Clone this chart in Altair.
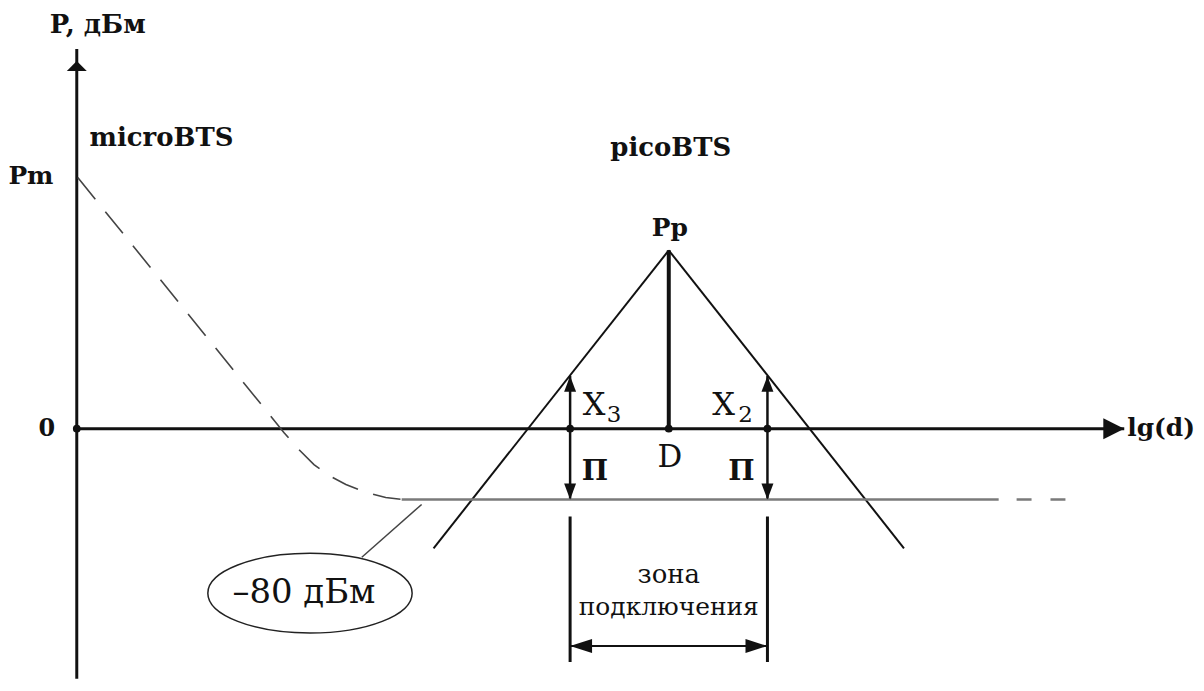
import altair as alt
import pandas as pd

# ---- schematic coordinates: x = lg(d) units, y = P units (0 = x axis) ----
X_DOMAIN = [-69, 1119]
Y_DOMAIN = [-251, 421]

SERIF = "DejaVu Serif"

# straight segments
seg_name = ["yaxis", "xaxis", "tri_left", "tri_right", "peak", "x3_arrow", "x2_arrow",
            "zone_left", "zone_right", "zone_span", "threshold", "leader"]
seg_x1 = [0, 0, 594, 594, 594, 495, 693, 495, 693, 495, 326, 286]
seg_y1 = [-262, 0, 179, 179, 179, 53, 53, -88, -88, -218, -71, -129]
seg_x2 = [0, 1051, 358, 830, 594, 495, 693, 495, 693, 693, 925, 346]
seg_y2 = [381, 0, -120, -120, 0, -71, -71, -234, -234, -218, -71, -76]
seg_w = [3, 3, 2, 2, 4, 2.5, 2.5, 3, 3, 2, 2.5, 1.5]
seg_c = ["#111", "#111", "#111", "#111", "#111", "#111", "#111", "#111", "#111", "#111", "#7a7a7a", "#444"]

# dashed continuation of the threshold line
dash_x1 = [943]
dash_x2 = [994]
dash_y = [-71]

# microBTS signal curve (dashed)
curve_x = [1, 208, 223, 238, 253, 270, 290, 310, 326]
curve_y = [252, -4, -21, -36, -47, -56, -64, -69, -71]

# junction dots
dot_x = [0, 495, 594, 693]
dot_y = [0, 0, 0, 0]

# labels
bold_text = ["P, дБм", "microBTS", "Pm", "picoBTS", "Pp", "0", "lg(d)", "П", "П"]
bold_x = [21, 85, -46, 596, 595, -30, 1088, 520, 667]
bold_y = [405, 292, 254, 282, 201, 0, 1, -43, -43]
bold_fs = [26, 26, 25, 26, 25, 24, 25, 28, 28]

reg_text = ["X", "3", "X", "2", "D", "зона", "подключения", "–80 дБм"]
reg_x = [519, 539, 649, 671, 595, 594, 594, 228]
reg_y = [24, 14, 24, 14, -29, -147, -179, -165]
reg_fs = [32, 23, 32, 23, 31, 26, 25, 34]

# ellipse around the -80 dBm note
ell_x = [234]
ell_y = [-165]

xs = alt.Scale(domain=X_DOMAIN, nice=False, zero=False)
ys = alt.Scale(domain=Y_DOMAIN, nice=False, zero=False)


def X(f="x"):
    return alt.X(f"{f}:Q", scale=xs, axis=None)


def Y(f="y"):
    return alt.Y(f"{f}:Q", scale=ys, axis=None)


segs = pd.DataFrame(dict(name=seg_name, x=seg_x1, y=seg_y1, x2=seg_x2, y2=seg_y2, w=seg_w, c=seg_c))
rules = alt.Chart(segs).mark_rule(clip=True, strokeCap="butt").encode(
    x=X(), y=Y(), x2="x2:Q", y2="y2:Q",
    strokeWidth=alt.StrokeWidth("w:Q", scale=None),
    color=alt.Color("c:N", scale=None),
)

dash_df = pd.DataFrame(dict(x=dash_x1, x2=dash_x2, y=dash_y))
dashes = alt.Chart(dash_df).mark_rule(color="#7a7a7a", strokeWidth=2.5, strokeDash=[15, 19]).encode(
    x=X(), x2="x2:Q", y=Y()
)

curve_df = pd.DataFrame(dict(x=curve_x, y=curve_y, o=list(range(len(curve_x)))))
curve = alt.Chart(curve_df).mark_line(color="#444", strokeWidth=1.6, strokeDash=[28, 16]).encode(
    x=X(), y=Y(), order="o:Q"
)

dots = alt.Chart(pd.DataFrame(dict(x=dot_x, y=dot_y))).mark_circle(color="#111", size=60, opacity=1).encode(
    x=X(), y=Y()
)

# arrowheads, positioned from the segment data
up_big = pd.DataFrame(dict(x=[seg_x2[0]], y=[seg_y2[0] - 17]))
right_big = pd.DataFrame(dict(x=[seg_x2[1] - 10.5], y=[0]))
up_small = pd.DataFrame(dict(x=[seg_x1[5], seg_x1[6]], y=[seg_y1[5] - 8, seg_y1[6] - 8]))
down_small = pd.DataFrame(dict(x=[seg_x2[5], seg_x2[6]], y=[seg_y2[5] + 8, seg_y2[6] + 8]))
left_zone = pd.DataFrame(dict(x=[seg_x1[9] + 11], y=[seg_y1[9]]))
right_zone = pd.DataFrame(dict(x=[seg_x2[9] - 11], y=[seg_y2[9]]))


def head(df, path, size):
    return alt.Chart(df).mark_point(shape=path, size=size, filled=True, color="#111", opacity=1,
                                    strokeWidth=0).encode(x=X(), y=Y())


heads = [
    head(up_big, "M 0 -0.5 L 1 0.5 L -1 0.5 Z", 400),
    head(right_big, "M 1 0 L -1 -1 L -1 1 Z", 441),
    head(up_small, "M 0 -1 L 0.75 1 L -0.75 1 Z", 256),
    head(down_small, "M 0 1 L 0.75 -1 L -0.75 -1 Z", 256),
    head(left_zone, "M -1 0 L 1 -0.64 L 1 0.64 Z", 484),
    head(right_zone, "M 1 0 L -1 -0.64 L -1 0.64 Z", 484),
]

ellipse = alt.Chart(pd.DataFrame(dict(x=ell_x, y=ell_y))).mark_point(
    shape="M -1 0 A 1 0.39 0 1 0 1 0 A 1 0.39 0 1 0 -1 0 Z",
    size=205 * 205, filled=False, color="#222", strokeWidth=1.5, opacity=1,
).encode(x=X(), y=Y())

bold_df = pd.DataFrame(dict(t=bold_text, x=bold_x, y=bold_y, fs=bold_fs))
bold = alt.Chart(bold_df).mark_text(font=SERIF, fontWeight="bold", color="#111",
                                    align="center", baseline="middle").encode(
    x=X(), y=Y(), text="t:N", size=alt.Size("fs:Q", scale=None)
)

reg_df = pd.DataFrame(dict(t=reg_text, x=reg_x, y=reg_y, fs=reg_fs))
reg = alt.Chart(reg_df).mark_text(font=SERIF, color="#111",
                                  align="center", baseline="middle").encode(
    x=X(), y=Y(), text="t:N", size=alt.Size("fs:Q", scale=None)
)

chart = alt.layer(rules, dashes, curve, dots, *heads, ellipse, bold, reg).properties(
    width=1188, height=672, padding=0, background="white"
).configure_view(stroke=None)

chart.save("out.html", embed_options={"renderer": "svg", "actions": False})
